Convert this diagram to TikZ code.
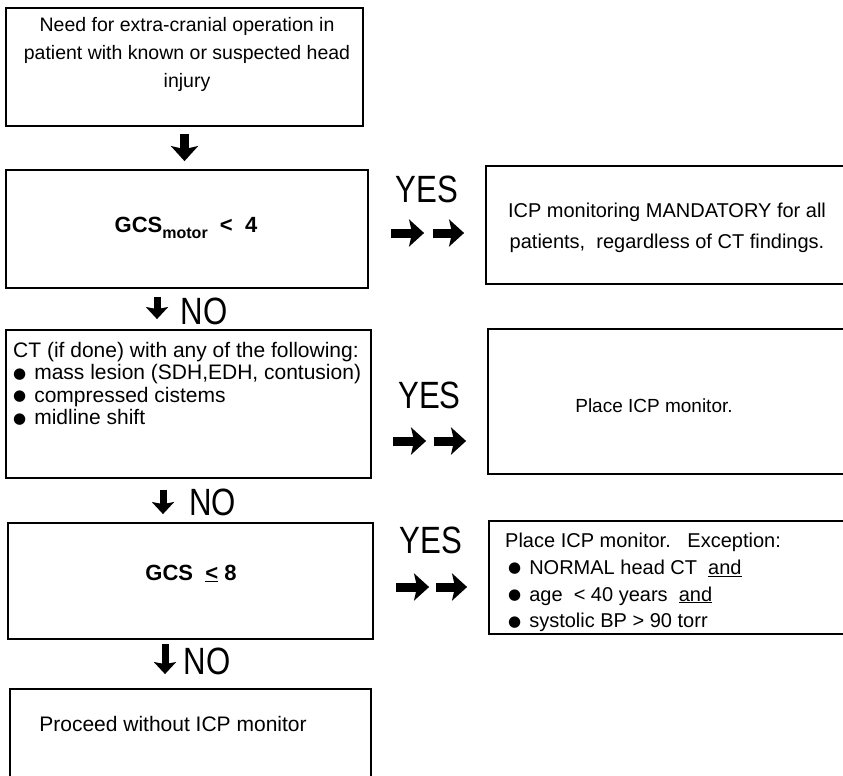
\documentclass[tikz,border=0pt]{standalone}
\usepackage{fontspec}
\setmainfont{Liberation Sans}
\newfontfamily\condfont{Liberation Sans}[FakeStretch=0.82]
\newfontfamily\symfont{DejaVu Sans}
\usetikzlibrary{arrows.meta}
\newcommand\blt{\raisebox{1.5pt}{\symfont\fontsize{15}{15}\selectfont ●}\hspace{8pt}}

\begin{document}
\begin{tikzpicture}[x=1pt,y=-1pt,
    box/.style={draw,line width=1.8pt,inner sep=0pt},
    txt/.style={inner sep=0pt,font=\fontsize{20}{28}\selectfont},
    fat/.style={line width=9pt,-{Stealth[length=15pt,width=27pt,inset=3pt]}},
    thin fat/.style={line width=7pt,-{Stealth[length=12pt,width=22pt,inset=2pt]}},
    yesno/.style={inner sep=0pt,font=\condfont\fontsize{38}{38}\selectfont}]
\useasboundingbox (0,0) rectangle (843,776);
\clip (0,0) rectangle (843,776);

\node [box,minimum width=357pt,minimum height=118pt] (need) at (184.5,67) {};
\node [txt,align=center,font=\fontsize{19.5}{28}\selectfont] (needtext) at (187,54)
    {Need for extra-cranial operation in\\ patient with known or suspected head\\ injury};

\node [box,minimum width=362pt,minimum height=118pt] (motor) at (187,229) {};
\node [txt,font=\fontsize{22}{22}\selectfont\bfseries] (motortext) at (186,228)
    {GCS\raisebox{-6pt}{\fontsize{16}{16}\selectfont motor}\ \ <\ \ 4};

\node [box,minimum width=365pt,minimum height=148pt] (ct) at (188.5,404) {};
\node [txt,align=left,anchor=north west,font=\fontsize{21}{22.5}\selectfont] (cttext) at (13,342)
    {CT (if done) with any of the following:\\ \blt mass lesion (SDH,EDH, contusion)\\
     \blt compressed cistems\\ \blt midline shift};

\node [box,minimum width=365pt,minimum height=116pt] (gcs) at (190.5,581) {};
\node [txt,anchor=base,font=\fontsize{22}{22}\selectfont\bfseries] (gcstext) at (191,580)
    {GCS\ \ \underline{<}\ 8};

\node [box,minimum width=361pt,minimum height=111pt] (proceed) at (190.5,744.5) {};
\node [txt,anchor=base,font=\fontsize{21}{21}\selectfont] (proceedtext) at (173,731)
    {Proceed without ICP monitor};

\node [box,minimum width=414pt,minimum height=118pt] (mand) at (693,225) {};
\node [txt,align=center,anchor=north,font=\fontsize{20}{31}\selectfont] (mandtext) at (667,203)
    {ICP monitoring MANDATORY for all\\ patients,\ \ regardless of CT findings.};

\node [box,minimum width=412pt,minimum height=145pt] (place) at (694,401.5) {};
\node [txt,anchor=base,font=\fontsize{19}{19}\selectfont] (placetext) at (654,412) {Place ICP monitor.};

\node [box,minimum width=411pt,minimum height=113pt] (excep) at (694.5,577.5) {};
\node [txt,align=left,anchor=north west,font=\fontsize{20}{26.7}\selectfont] (exceptext) at (505,533)
    {Place ICP monitor.\ \ \ Exception:\\
     \hspace*{3pt}\blt NORMAL head CT\ \ \underline{and}\\
     \hspace*{3pt}\blt age\ \ < 40 years\ \ \underline{and}\\
     \hspace*{3pt}\blt systolic BP > 90 torr};

\draw [fat,shorten <=7pt,shorten >=8pt] (need.south) -- (need.south |- motor.north);

\draw [thin fat,shorten <=8pt,shorten >=10pt] ([xshift=-30pt]motor.south) -- ([xshift=-30pt]motor.south |- ct.north)
    node [yesno,midway,right=20pt,yshift=-2pt] (no1) {NO};
\draw [thin fat,shorten <=11pt,shorten >=8pt] ([xshift=-25.5pt]ct.south) -- ([xshift=-25.5pt]ct.south |- gcs.north)
    node [yesno,midway,right=23pt,yshift=-2pt] (no2) {NO};
\draw [thin fat,shorten <=4pt,shorten >=14pt] ([xshift=-25.5pt]gcs.south) -- ([xshift=-25.5pt]gcs.south |- proceed.north)
    node [yesno,midway,right=15pt,yshift=3pt] (no3) {NO};

\draw [fat,shorten <=22pt,shorten >=61pt] ([yshift=-4pt]motor.east) -- ([yshift=-4pt]motor.east -| mand.west)
    node [yesno,midway,above=26pt] (yes1) {YES};
\draw [fat,shorten <=64pt,shorten >=21pt] ([yshift=-4pt]motor.east) -- ([yshift=-4pt]motor.east -| mand.west);

\draw [fat,shorten <=21pt,shorten >=61pt] ([yshift=-37pt]ct.east) -- ([yshift=-37pt]ct.east -| place.west)
    node [yesno,midway,above=28pt] (yes2) {YES};
\draw [fat,shorten <=62pt,shorten >=21pt] ([yshift=-37pt]ct.east) -- ([yshift=-37pt]ct.east -| place.west);

\draw [fat,shorten <=22pt,shorten >=59pt] ([yshift=-6pt]gcs.east) -- ([yshift=-6pt]gcs.east -| excep.west)
    node [yesno,midway,above=29pt] (yes3) {YES};
\draw [fat,shorten <=62pt,shorten >=21pt] ([yshift=-6pt]gcs.east) -- ([yshift=-6pt]gcs.east -| excep.west);
\end{tikzpicture}
\end{document}
